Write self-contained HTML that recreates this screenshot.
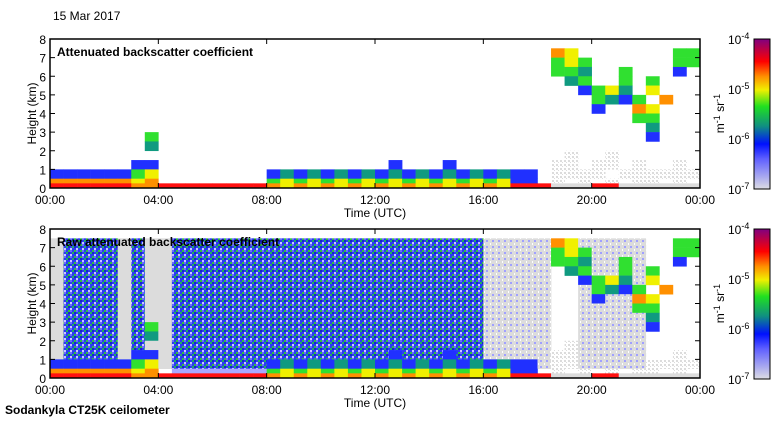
<!DOCTYPE html>
<html><head><meta charset="utf-8"><style>
body{margin:0;background:#fff;}
svg text{font-family:"Liberation Sans",sans-serif;}
</style></head><body>
<svg id="fig" width="780" height="420" xmlns="http://www.w3.org/2000/svg">
<defs>
<pattern id="noise" width="6" height="6" patternUnits="userSpaceOnUse">
<rect width="6" height="6" fill="#2a3cf0"/>
<rect x="0" y="0" width="2" height="2" fill="#20b060"/>
<rect x="4" y="2" width="2" height="2" fill="#c8c8ff"/>
<rect x="2" y="4" width="2" height="2" fill="#30c040"/>
<rect x="4" y="4" width="2" height="2" fill="#6a6aff"/>
<rect x="2" y="0" width="2" height="2" fill="#1a20d0"/>
</pattern>
<pattern id="speck" width="6" height="6" patternUnits="userSpaceOnUse">
<rect width="6" height="6" fill="#dcdcdc"/>
<rect x="0" y="0" width="2" height="2" fill="#a0a0ff"/>
<rect x="4" y="3" width="1" height="2" fill="#ffffff"/>
</pattern>
<pattern id="light" width="4" height="4" patternUnits="userSpaceOnUse">
<rect width="4" height="4" fill="#ffffff"/>
<rect x="0" y="0" width="2" height="2" fill="#dcdcdc"/>
<rect x="2" y="2" width="1" height="1" fill="#dcdcdc"/>
</pattern>
<linearGradient id="cbar" x1="0" y1="1" x2="0" y2="0">
<stop offset="0" stop-color="#dcdce4"/>
<stop offset="0.2" stop-color="#6060ff"/>
<stop offset="0.3" stop-color="#0010ff"/>
<stop offset="0.42" stop-color="#109080"/>
<stop offset="0.55" stop-color="#20e020"/>
<stop offset="0.66" stop-color="#f0f000"/>
<stop offset="0.75" stop-color="#ff9000"/>
<stop offset="0.85" stop-color="#ff0000"/>
<stop offset="1" stop-color="#800080"/>
</linearGradient>
</defs>
<text x="53" y="20" font-size="12">15 Mar 2017</text>
<text x="5" y="414" font-size="12" font-weight="bold">Sodankyla CT25K ceilometer</text>
<g id="p1"></g>
<g id="p2"></g>
</svg>
<script>
// Grid: 48 columns (30 min). Rows listed from top to bottom with base heights in rowBaseKm.
// Codes: ' ' none, l faint gray, 0 gray, 1 light blue, 2 blue, 3 teal, 4 green, 5 yellow, 6 orange, 7 red, 8 dark red
const rowBaseKm = [7.5,7,6.5,6,5.5,5,4.5,4,3.5,3,2.5,2,1.5,1,0.5,0.25,0];
const attenuatedRows = [
"                                                ",
"                                     65       44",
"                                     454      44",
"                                     443  4   2 ",
"                                      34  4 4   ",
"                                       2453 5   ",
"                                        4324 6   ",
"                                        2  65   ",
"                                           44   ",
"                                            3   ",
"       4                                    2   ",
"       3                                        ",
"                                      l  l      ",
"      22                 2   2       ll ll l  l ",
"22222245        23232323232323232322 llll llllll",
"66666656        45454545454545454522 l l l ll l ",
"777777667777777765656565656565656577700077000000"
];
// column background for raw panel rows 0.25-7.5 km: n noise, m gray speckle, 0 gray, ' ' white
const rawBackground = "0nnnn0n00nnnnnnnnnnnnnnnnnnnnnnnmmmmm  mmmmm   ";
const timeTicks = ["00:00","04:00","08:00","12:00","16:00","20:00","00:00"];
const heightTicks = [0,1,2,3,4,5,6,7,8];
const cbarTicks = [-4,-5,-6,-7];

const colors = {"l":"url(#light)","0":"#dcdcdc","1":"#a8a8ff","2":"#2030ff","3":"#109a80","4":"#30e030","5":"#f0f000","6":"#ff9000","7":"#ff1010","8":"#a00030","n":"url(#noise)","m":"url(#speck)"};
const NS="http://www.w3.org/2000/svg";
function mk(tag,attrs,parent){const e=document.createElementNS(NS,tag);for(const k in attrs)e.setAttribute(k,attrs[k]);parent.appendChild(e);return e;}

function drawPanel(g, top, title, raw){
  const x0=50,x1=700,y0=top,y1=top+149;
  const xs=h=>x0+(x1-x0)*h/24;
  const ys=km=>y1-(y1-y0)*km/8;
  const cw=(x1-x0)/48;
  for(let r=0;r<attenuatedRows.length;r++){
    const km=rowBaseKm[r];
    const kmTop=r===0?8:rowBaseKm[r-1];
    for(let c=0;c<48;c++){
      let ch=attenuatedRows[r][c]||' ';
      if(raw && (ch===' '||ch==='1'||ch==='0'||ch==='l') && km>=0.5 && km<7.5){const b=rawBackground[c]||' '; if(b!==' ')ch=b;}
      if(raw && ch===' ' && km===0.25){const b=rawBackground[c]||' '; if(b==='n')ch='1';}
      if(ch===' '||!colors[ch])continue;
      const rc=mk('rect',{x:xs(c*0.5),y:ys(kmTop),width:cw+0.3,height:ys(km)-ys(kmTop)+0.3,fill:colors[ch]},g);
      
      
    }
  }
  const fr=mk('rect',{x:x0,y:y0,width:x1-x0,height:y1-y0,fill:'none',stroke:'#000','stroke-width':1.5},g);
  
  
  timeTicks.forEach((t,i)=>{
    const x=xs(i*4);
    mk('line',{x1:x,y1:y1,x2:x,y2:y1-5,stroke:'#000'},g);
    mk('line',{x1:x,y1:y0,x2:x,y2:y0+5,stroke:'#000'},g);
    const tx=mk('text',{x:x,y:y1+16,'font-size':12,'text-anchor':'middle'},g);
    tx.textContent=t;
    
    
  });
  heightTicks.forEach(h=>{
    const y=ys(h);
    mk('line',{x1:x0,y1:y,x2:x0+5,y2:y,stroke:'#000'},g);
    mk('line',{x1:x1,y1:y,x2:x1-5,y2:y,stroke:'#000'},g);
    const tx=mk('text',{x:x0-4,y:y+5,'font-size':12,'text-anchor':'end'},g);
    tx.textContent=h;
    
    
  });
  const tt=mk('text',{x:57,y:y0+17,'font-size':12,'font-weight':'bold'},g);
  tt.textContent=title;
  
  
  const xl=mk('text',{x:375,y:y1+29,'font-size':12,'text-anchor':'middle'},g);
  xl.textContent='Time (UTC)';
  
  
  const yl=mk('text',{x:0,y:0,'font-size':12,'text-anchor':'middle',transform:`translate(36,${(y0+y1)/2}) rotate(-90)`},g);
  yl.textContent='Height (km)';
  
  
  const cb=mk('rect',{x:754,y:y0,width:16,height:150,fill:'url(#cbar)',stroke:'#000','stroke-width':1},g);
  
  
  cbarTicks.forEach((p,i)=>{
    const y=y0+i*50;
    const t=mk('text',{x:728,y:y+5,'font-size':12},g);
    t.innerHTML=`10<tspan dy="-5" font-size="9">${p}</tspan>`;
    
    
  });
  const u=mk('text',{x:0,y:0,'font-size':12,'text-anchor':'middle',transform:`translate(724,${(y0+y1)/2}) rotate(-90)`},g);
  u.innerHTML='m<tspan dy="-4" font-size="9">-1</tspan><tspan dy="4"> sr</tspan><tspan dy="-4" font-size="9">-1</tspan>';
  
  
}
drawPanel(document.getElementById('p1'),39,'Attenuated backscatter coefficient',false);
drawPanel(document.getElementById('p2'),229,'Raw attenuated backscatter coefficient',true);
</script>
</body></html>
